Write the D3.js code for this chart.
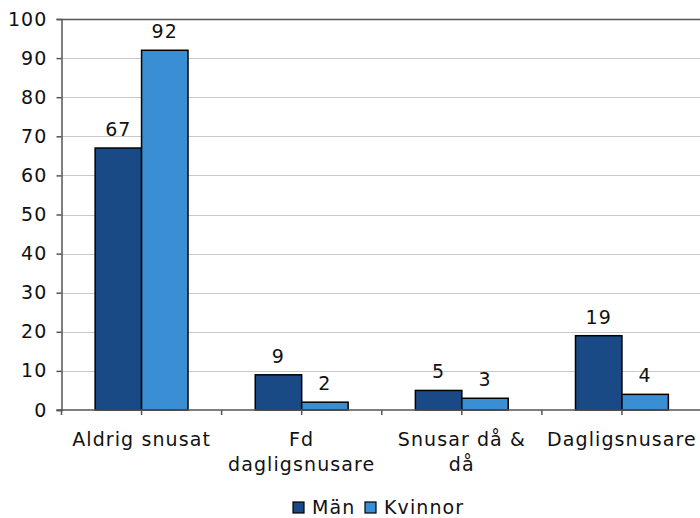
<!DOCTYPE html>
<html><head><meta charset="utf-8">
<script src="https://cdn.jsdelivr.net/npm/d3@7"></script>
<style>body{margin:0;background:#fff}svg{display:block}text{font-family:Verdana,"DejaVu Sans",sans-serif;fill:#111;letter-spacing:1.1px}</style>
</head><body><svg id="c" width="700" height="518"></svg>
<script>
const categories = [["Aldrig snusat"], ["Fd", "dagligsnusare"], ["Snusar då &", "då"], ["Dagligsnusare"]];
const series = ["Män", "Kvinnor"];
const man = [67, 9, 5, 19];
const kvinnor = [92, 2, 3, 4];
const yTicks = [0, 10, 20, 30, 40, 50, 60, 70, 80, 90, 100];
const colors = ["#1a4a86", "#3a8fd4"];

const svg = d3.select("#c");
const mLeft = 61.5, mRight = 702, mTop = 19, mBottom = 410;
const fs = 19;
const x = d3.scaleBand().domain(d3.range(categories.length)).range([mLeft, mRight]).paddingInner(0).paddingOuter(0);
const y = d3.scaleLinear().domain([0, 100]).range([mBottom, mTop]);
const groupW = x.bandwidth() * 0.58;
const x1 = d3.scaleBand().domain(series).range([0, groupW]);

// gridlines
svg.append("g").selectAll("line").data(yTicks.filter(d => d > 0)).join("line")
  .attr("x1", mLeft).attr("x2", 700).attr("y1", d => Math.round(y(d)) + 0.5).attr("y2", d => Math.round(y(d)) + 0.5)
  .attr("stroke", d => d === 100 ? "#555" : "#c8c8c8").attr("stroke-width", d => d === 100 ? 1.5 : 1);

// y axis
const ya = svg.append("g").attr("transform", `translate(${mLeft},0)`)
  .call(d3.axisLeft(y).tickValues(yTicks).tickSize(5).tickPadding(9));
ya.select(".domain").attr("stroke", "#555").attr("stroke-width", 1.5);
ya.selectAll(".tick line").attr("stroke", "#555").attr("stroke-width", 1.5);
ya.selectAll("text").attr("font-size", fs).attr("font-family", "Verdana,'DejaVu Sans',sans-serif").attr("fill", "#111");

// bars
const data = categories.map((c, i) => ({i, vals: [man[i], kvinnor[i]]}));
const g = svg.append("g").selectAll("g").data(data).join("g")
  .attr("transform", d => `translate(${x(d.i) + (x.bandwidth() - groupW) / 2},0)`);
g.selectAll("rect").data(d => d.vals.map((v, j) => ({v, s: series[j], j}))).join("rect")
  .attr("x", d => x1(d.s)).attr("width", x1.bandwidth())
  .attr("y", d => y(d.v)).attr("height", d => y(0) - y(d.v))
  .attr("fill", d => colors[d.j]).attr("stroke", "#000").attr("stroke-width", 1.5);
g.selectAll("text").data(d => d.vals.map((v, j) => ({v, s: series[j]}))).join("text")
  .attr("x", d => x1(d.s) + x1.bandwidth() / 2).attr("y", d => y(d.v) - 12)
  .attr("text-anchor", "middle").attr("font-size", fs).text(d => d.v);

// x axis
const xa = svg.append("g").attr("transform", `translate(0,${mBottom})`);
xa.append("line").attr("x1", mLeft - 5).attr("x2", 700).attr("y1", 0).attr("y2", 0).attr("stroke", "#555").attr("stroke-width", 1.5);
const halfTicks = d3.range(0, categories.length * 2 + 1).map(k => mLeft + k * x.bandwidth() / 2);
xa.selectAll("line.t").data(halfTicks).join("line").attr("class", "t")
  .attr("x1", d => d).attr("x2", d => d).attr("y1", 0).attr("y2", 5).attr("stroke", "#555").attr("stroke-width", 1.5);
xa.selectAll("text.c").data(categories).join("text").attr("class", "c")
  .attr("text-anchor", "middle").attr("font-size", fs)
  .attr("transform", (d, i) => `translate(${x(i) + x.bandwidth() / 2},36)`)
  .selectAll("tspan").data(d => d).join("tspan")
  .attr("x", 0).attr("y", (d, k) => k * 25).text(d => d);

// legend
const lg = svg.append("g").attr("transform", "translate(293,502)");
const items = [{s: "Män", x: 0}, {s: "Kvinnor", x: 72}];
items.forEach((it, j) => {
  lg.append("rect").attr("x", it.x).attr("y", 0).attr("width", 11).attr("height", 11)
    .attr("fill", colors[j]).attr("stroke", "#000").attr("stroke-width", 1.2);
  lg.append("text").attr("x", it.x + 19).attr("y", 12).attr("font-size", fs).text(it.s);
});
</script></body></html>
